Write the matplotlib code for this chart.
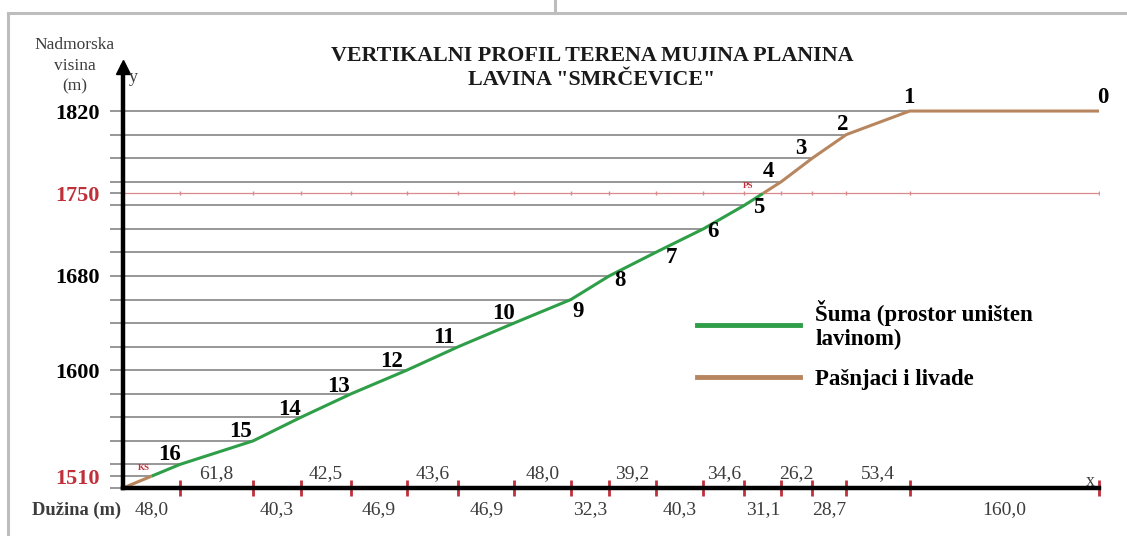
import matplotlib
matplotlib.use('Agg')
import matplotlib.pyplot as plt
from matplotlib.lines import Line2D
import numpy as np

# horizontal lengths between profile points (m), from the foot of the slope upwards
segment_lengths = [48.0, 61.8, 40.3, 42.5, 46.9, 43.6, 46.9, 48.0, 32.3,
                   39.2, 40.3, 34.6, 31.1, 26.2, 28.7, 53.4, 160.0]
# elevation of every profile vertex (m), first one is the origin
elevations = [1500, 1520, 1540, 1560, 1580, 1600, 1620, 1640, 1660, 1680,
              1700, 1720, 1740, 1760, 1780, 1800, 1820, 1820]
point_names = ['16', '15', '14', '13', '12', '11', '10', '9', '8', '7',
               '6', '5', '4', '3', '2', '1', '0']
ks_elev = 1510   # KS - end of the avalanche track
ps_elev = 1750   # PS - start of the avalanche track
ytick_vals = [1820, 1750, 1680, 1600, 1510]
red_ticks = [1750, 1510]
contour_levels = [1520, 1540, 1560, 1580, 1600, 1620, 1640, 1660, 1680,
                  1700, 1720, 1740, 1760, 1780, 1800, 1820, 1510]
minor_levels = [1500, 1520, 1540, 1560, 1580, 1620, 1640, 1660, 1700,
                1720, 1740, 1760, 1780, 1800]

# label offsets next to the numbered points (pixels, up = positive)
label_offsets = [(-10, 10), (-13, 9), (-11, 8), (-13, 7), (-15, 9), (-15, 9),
                 (-11, 10), (7, -12), (11, -5), (16, -5), (10, -3), (14, -2),
                 (-13, 10), (-12, 10), (-4, 10), (-1, 14), (4, 14)]

GREEN = '#2e9e48'
BROWN = '#b8865e'
RED = '#c0303a'
GREY = '#7a7a7a'
TXT = '#3c3c3c'

plt.rcParams['font.family'] = ['Liberation Serif', 'DejaVu Serif']

W, H, DPI = 1127, 536, 100
X0, Y0 = 123, 488          # origin position in pixels (from top left)
SX, SY = 1.185, 1.178      # pixels per metre
P = 72 / DPI               # pixels -> points

dist = np.concatenate([[0], np.cumsum(segment_lengths)])
elev = np.array(elevations, dtype=float)
xmax = dist[-1]
ytop = 1857

fig = plt.figure(figsize=(W / DPI, H / DPI), dpi=DPI)
ax = fig.add_axes([X0 / W, (H - Y0) / H, xmax * SX / W, (ytop - 1500) * SY / H])
ax.set_xlim(0, xmax)
ax.set_ylim(1500, ytop)
for s in ['top', 'right']:
    ax.spines[s].set_visible(False)
for s in ['left', 'bottom']:
    ax.spines[s].set_linewidth(3.2)
    ax.spines[s].set_zorder(5)
ax.plot(0, ytop, marker='^', ms=10, color='black', clip_on=False, zorder=6)

# y axis ticks
ax.set_yticks(ytick_vals)
ax.set_yticklabels([str(v) for v in ytick_vals])
ax.set_yticks(minor_levels, minor=True)
ax.tick_params(axis='y', which='both', direction='out', length=9.5,
               width=1.1, color=GREY, pad=7, labelsize=16)
for lab, v in zip(ax.get_yticklabels(), ytick_vals):
    lab.set_fontweight('bold')
    lab.set_color(RED if v in red_ticks else 'black')
for t, v in zip(ax.yaxis.get_major_ticks(), ytick_vals):
    if v == ps_elev:
        t.tick1line.set_color('#d98a8e')

# x axis ticks at the profile points
ax.set_xticks(dist[1:])
ax.set_xticklabels([])
ax.tick_params(axis='x', direction='inout', length=12, width=2, color=RED)

# contour lines up to the profile
up_e, up_d = elev[:-1], dist[:-1]
for lv in contour_levels:
    xe = np.interp(lv, up_e, up_d)
    ax.hlines(lv, 0, xe, color=GREY, lw=1.1, zorder=1)

# PS level line
ax.axhline(ps_elev, color='#d98a8e', lw=0.9, zorder=1)
ax.plot(dist[1:], [ps_elev] * len(dist[1:]), '|', ms=3, color='#d98a8e', zorder=1)

# profile split into pasture / forest / pasture
ks_x = np.interp(ks_elev, up_e, up_d)
ps_x = np.interp(ps_elev, up_e, up_d)


def piece(lo, hi):
    m = (dist > lo) & (dist < hi)
    xs = np.concatenate([[lo], dist[m], [hi]])
    return xs, np.interp(xs, dist, elev)


for lo, hi, c in [(0, ks_x, BROWN), (ks_x, ps_x, GREEN), (ps_x, xmax, BROWN)]:
    xs, ys = piece(lo, hi)
    ax.plot(xs, ys, color=c, lw=2.2, zorder=3, solid_capstyle='butt')

ax.annotate('KS', (ks_x, ks_elev), xytext=(-8 * P, 8 * P), textcoords='offset points',
            ha='center', va='center', fontsize=6.5, fontweight='bold', color=RED)
ax.annotate('PS', (ps_x, ps_elev), xytext=(-15 * P, 7 * P), textcoords='offset points',
            ha='center', va='center', fontsize=6.5, fontweight='bold', color=RED)

# numbered points
for name, x, y, (dx, dy) in zip(point_names, dist[1:], elev[1:], label_offsets):
    ax.annotate(name, (x, y), xytext=(dx * P, dy * P), textcoords='offset points',
                ha='center', va='center', fontsize=16.5, fontweight='bold',
                color='black', annotation_clip=False, zorder=4)

# horizontal lengths, alternating below / above the axis
mids = (dist[:-1] + dist[1:]) / 2
for i, (m, L) in enumerate(zip(mids, segment_lengths)):
    off = -22 if i % 2 == 0 else 14
    ax.annotate(f'{L:.1f}'.replace('.', ','), (m, 1500), xytext=(0, off * P),
                textcoords='offset points', ha='center', va='center',
                fontsize=14, color=TXT, annotation_clip=False)

# texts
fig.text(592 / W, 1 - 68 / H,
         'VERTIKALNI PROFIL TERENA MUJINA PLANINA\nLAVINA "SMRČEVICE"',
         ha='center', va='center', fontsize=15.8, fontweight='bold',
         linespacing=1.26, color='#1a1a1a')
fig.text(75 / W, 1 - 66 / H, 'Nadmorska\nvisina\n(m)', ha='center', va='center',
         fontsize=12.5, color=TXT, linespacing=1.38)
fig.text(133 / W, 1 - 77 / H, 'y', ha='center', va='center', fontsize=13, color=TXT)
fig.text(1090 / W, 1 - 481 / H, 'x', ha='center', va='center', fontsize=13, color=TXT)
fig.text(77 / W, 1 - 510 / H, 'Dužina (m)', ha='center', va='center',
         fontsize=13.3, fontweight='bold', color=TXT)

# legend
handles = [Line2D([], [], color=GREEN, lw=3.5), Line2D([], [], color=BROWN, lw=3.5)]
ax.legend(handles, ['Šuma (prostor uništen\nlavinom)', 'Pašnjaci i livade'],
          loc='upper left', bbox_to_anchor=(697 / W, 1 - 300 / H),
          bbox_transform=fig.transFigure, frameon=False, borderpad=0,
          borderaxespad=0, handlelength=4.5, handletextpad=0.65,
          labelspacing=0.8, prop=dict(family='Liberation Serif', weight='bold', size=16.5))

# scan frame
for xs, ys in [([8, 8], [13, H]), ([8, W], [13, 13]), ([555, 555], [0, 13])]:
    fig.add_artist(Line2D([x / W for x in xs], [1 - y / H for y in ys],
                          transform=fig.transFigure, color='#bdbdbd', lw=2.2))

fig.savefig('out.png', dpi=DPI)
